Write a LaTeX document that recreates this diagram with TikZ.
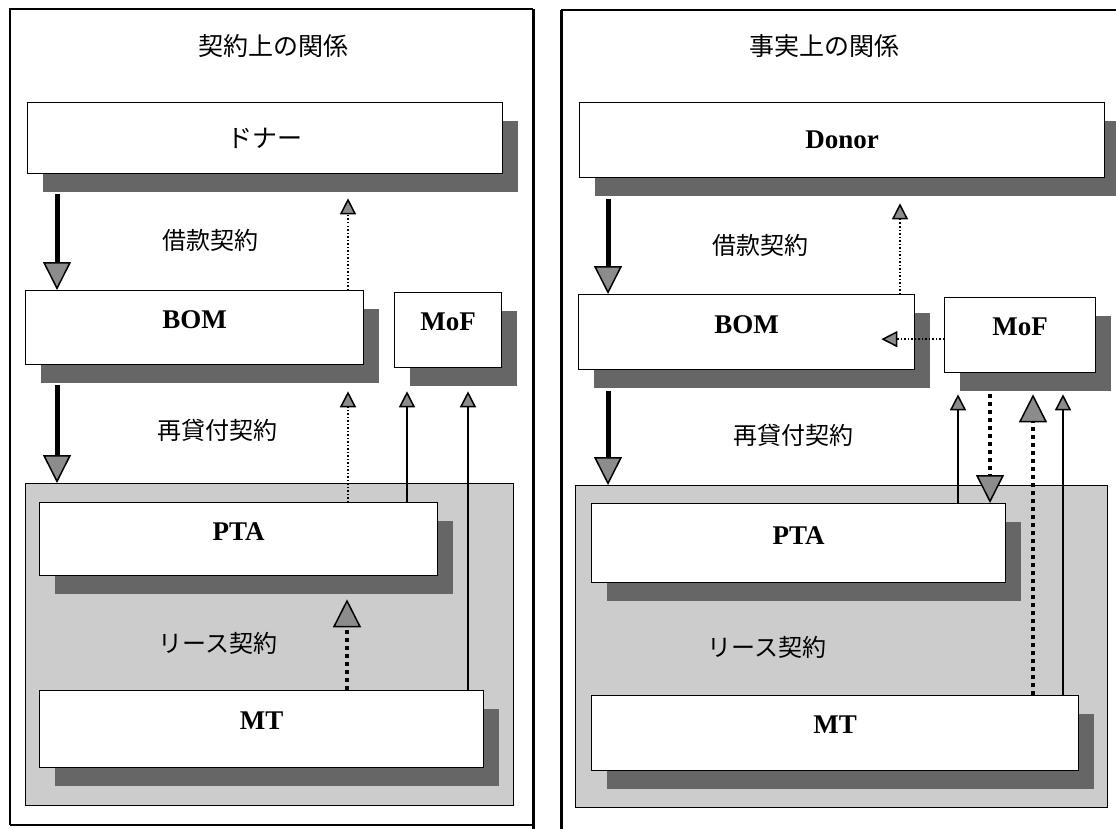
\documentclass[tikz,border=0pt]{standalone}
\usepackage{fontspec}
\setmainfont{Liberation Serif}
\newfontfamily\jp{Noto Sans CJK JP}
\usetikzlibrary{arrows.meta, shadows, calc}

\begin{document}
\begin{tikzpicture}[x=1pt,y=-1pt,
  box/.style={rectangle,draw=black,line width=1.3pt,fill=white,anchor=north west,inner sep=0pt,font=\bfseries\fontsize{27}{32}\selectfont,drop shadow={shadow xshift=15pt,shadow yshift=-18pt,fill=black!60,opacity=1}},
  lift/.style={text depth=16pt},
  zone/.style={rectangle,draw=black,line width=1.3pt,fill=black!20,anchor=north west,inner sep=0pt},
  lbl/.style={font=\jp\fontsize{24}{28}\selectfont},
  ttl/.style={font=\jp\fontsize{25}{30}\selectfont},
  frame/.style={line width=1.2pt},
  bigtip/.style={-{Triangle[length=28pt,width=28pt,fill=black!45,line width=1.5pt]}},
  smalltip/.style={-{Triangle[length=16pt,width=16pt,fill=black!45,line width=1.5pt]}},
  flow/.style={bigtip,line width=5pt},
  ret/.style={smalltip,line width=1.5pt,dotted},
  tie/.style={smalltip,line width=2pt},
  heavy/.style={bigtip,line width=4pt,dash pattern=on 4pt off 4pt}
]
  \useasboundingbox (0,0) rectangle (1116,829);

  % panel frames
  \draw[frame] (10,825) -- (10,9) -- (533,9);
  \draw[frame] (10,825) -- (533,825);
  \draw[line width=3pt] (533,9) -- (533,829);
  \draw[line width=3pt] (561,829) -- (561,10);
  \draw[frame] (561,10) -- (1116,10);

  % left: contractual relations
  \node[ttl] (headL) at (273,46) {契約上の関係};
  \node[zone,minimum width=488pt,minimum height=322pt] (leaseL) at (25,483) {};
  \node[box,minimum width=475pt,minimum height=71pt] (donorL) at (27,102) {\mdseries\jp\fontsize{25}{30}\selectfont ドナー};
  \node[box,lift,minimum width=338pt,minimum height=74pt] (bomL) at (25,290) {BOM};
  \node[box,lift,minimum width=107pt,minimum height=75pt] (mofL) at (394,292) {MoF};
  \node[box,lift,minimum width=398pt,minimum height=73pt] (ptaL) at (39,502) {PTA};
  \node[box,lift,minimum width=444pt,minimum height=77pt] (mtL) at (39,690) {MT};
  \node[lbl] (loanL) at (210,240) {借款契約};
  \node[lbl] (onlendL) at (217,430) {再貸付契約};
  \node[lbl] (rentL) at (218,643) {リース契約};

  \coordinate (c1) at (57,0);
  \coordinate (c2) at (348,0);
  \coordinate (c3) at (407,0);
  \coordinate (c4) at (468,0);
  \draw[flow] ($(c1 |- donorL.south)+(0,20)$) -- (c1 |- bomL.north);
  \draw[ret] (c2 |- bomL.north) -- ($(c2 |- donorL.south)+(0,24)$);
  \draw[flow] ($(c1 |- bomL.south)+(0,20)$) -- (c1 |- leaseL.north);
  \draw[ret] (c2 |- ptaL.north) -- ($(c2 |- bomL.south)+(0,26)$);
  \draw[tie] (c3 |- ptaL.north) -- ($(c3 |- mofL.south)+(0,23)$);
  \draw[tie] (c4 |- mtL.north) -- ($(c4 |- mofL.south)+(0,23)$);
  \draw[heavy] ($(c2 |- mtL.north)+(-1,0)$) -- ($(c2 |- ptaL.south)+(-1,23)$);

  % right: actual relations
  \node[ttl] (headR) at (824,46) {事実上の関係};
  \node[zone,minimum width=532pt,minimum height=322pt] (leaseR) at (575,485) {};
  \node[box,minimum width=525pt,minimum height=75pt] (donorR) at (579,102) {Donor};
  \node[box,lift,minimum width=336pt,minimum height=75pt] (bomR) at (578,294) {BOM};
  \node[box,lift,minimum width=151pt,minimum height=75pt] (mofR) at (944,297) {MoF};
  \node[box,lift,minimum width=414pt,minimum height=79pt] (ptaR) at (591,503) {PTA};
  \node[box,lift,minimum width=487pt,minimum height=75pt] (mtR) at (591,695) {MT};
  \node[lbl] (loanR) at (760,245) {借款契約};
  \node[lbl] (onlendR) at (793,435) {再貸付契約};
  \node[lbl] (rentR) at (767,647) {リース契約};

  \coordinate (d1) at (608,0);
  \coordinate (d2) at (900,0);
  \coordinate (d3) at (958,0);
  \coordinate (d4) at (990,0);
  \coordinate (d5) at (1033,0);
  \coordinate (d6) at (1063,0);
  \draw[flow] ($(d1 |- donorR.south)+(0,21)$) -- (d1 |- bomR.north);
  \draw[ret] (d2 |- bomR.north) -- ($(d2 |- donorR.south)+(0,25)$);
  \draw[ret] ($(mofR.west)+(0,4)$) -- ($(bomR.east |- mofR.west)+(-34,4)$);
  \draw[flow] ($(d1 |- bomR.south)+(0,21)$) -- (d1 |- leaseR.north);
  \draw[tie] (d3 |- ptaR.north) -- ($(d3 |- mofR.south)+(0,21)$);
  \draw[heavy] ($(d4 |- mofR.south)+(0,21)$) -- (d4 |- ptaR.north);
  \draw[heavy] (d5 |- mtR.north) -- ($(d5 |- mofR.south)+(0,21)$);
  \draw[tie] (d6 |- mtR.north) -- ($(d6 |- mofR.south)+(0,21)$);
\end{tikzpicture}
\end{document}
